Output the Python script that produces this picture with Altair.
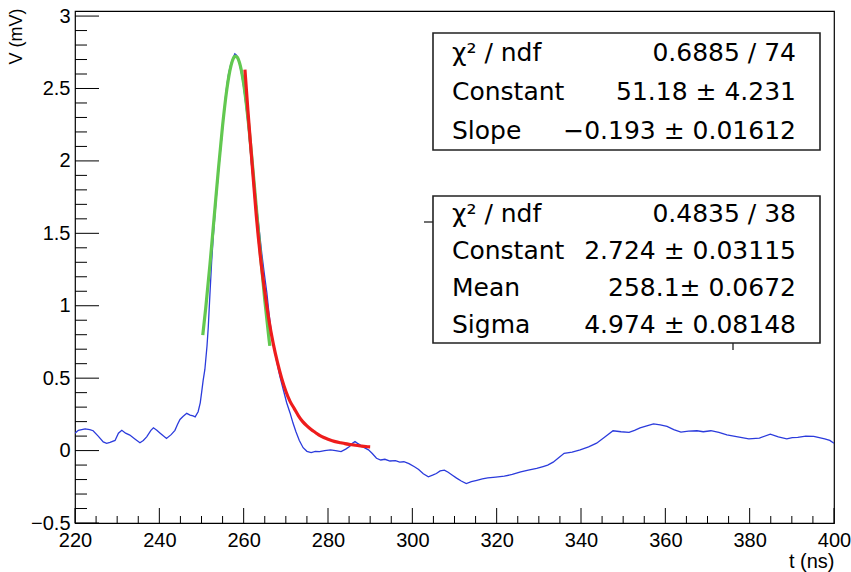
import altair as alt
import pandas as pd

# ---------------- data ----------------
blue_t = [220.0, 220.8, 222.4, 223.5, 224.3, 225.5, 226.7, 227.5, 228.3, 229.5, 230.3, 231.1, 232.0,
          233.0, 234.2, 235.4, 236.2, 237.0, 238.0, 238.6, 239.4, 240.2, 241.0, 241.7, 242.8, 243.7,
          244.3, 244.9, 245.6, 246.5, 247.3, 248.0, 248.5, 249.2, 249.7, 250.0, 250.4, 250.8, 251.3,
          251.6, 252.0, 252.4, 252.8, 253.2, 253.6, 254.0, 254.4, 254.8, 255.2, 255.6, 256.0, 256.4,
          256.8, 257.2, 257.6, 257.9, 258.3, 258.7, 259.1, 259.5, 259.9, 260.3, 260.7, 261.1, 261.5,
          261.9, 262.5, 263.1, 263.7, 264.3, 264.9, 265.5, 266.0, 266.6, 267.2, 267.8, 268.6, 269.4,
          270.2, 271.0, 271.7, 272.4, 273.2, 274.1, 275.0, 276.0, 277.0, 278.0, 279.2, 280.6, 281.8,
          283.1, 284.2, 285.1, 285.8, 286.4, 287.0, 287.6, 288.6, 289.6, 290.5, 291.5, 292.5, 293.5,
          294.7, 296.0, 297.0, 298.0, 299.2, 300.5, 301.5, 302.6, 303.8, 304.8, 305.7, 306.6, 307.6,
          308.5, 309.5, 310.5, 311.6, 312.8, 314.0, 315.3, 316.6, 317.9, 319.8, 321.8, 323.7, 325.7,
          327.5, 329.5, 331.0, 332.1, 333.4, 334.7, 336.0, 337.9, 339.8, 341.8, 343.7, 345.5, 347.6,
          349.5, 351.4, 352.7, 354.0, 355.6, 357.2, 358.8, 360.4, 362.0, 363.7, 365.5, 367.5, 369.0,
          370.8, 372.7, 374.6, 377.2, 379.8, 382.3, 384.9, 386.8, 388.8, 390.1, 391.4, 393.3, 395.2,
          396.5, 397.8, 399.0, 400.0]
blue_v = [0.12, 0.14, 0.15, 0.145, 0.137, 0.10, 0.06, 0.05, 0.057, 0.07, 0.12, 0.14, 0.12,
          0.107, 0.08, 0.054, 0.07, 0.095, 0.14, 0.157, 0.14, 0.12, 0.10, 0.084, 0.11, 0.14,
          0.18, 0.215, 0.235, 0.257, 0.245, 0.24, 0.233, 0.268, 0.33, 0.395, 0.487, 0.56, 0.72,
          0.85, 1.08, 1.30, 1.48, 1.63, 1.78, 1.92, 2.04, 2.16, 2.29, 2.42, 2.52, 2.60,
          2.65, 2.69, 2.72, 2.74, 2.73, 2.71, 2.66, 2.60, 2.53, 2.44, 2.34, 2.23, 2.10,
          1.96, 1.82, 1.68, 1.52, 1.36, 1.22, 1.09, 0.95, 0.81, 0.71, 0.62, 0.51, 0.42,
          0.33, 0.26, 0.19, 0.13, 0.07, 0.02, -0.005, -0.014, -0.005, -0.007, 0.0, 0.005, 0.0,
          -0.007, 0.01, 0.028, 0.05, 0.063, 0.05, 0.040, 0.02, 0.005, -0.02, -0.053, -0.065, -0.06,
          -0.072, -0.07, -0.08, -0.077, -0.09, -0.112, -0.13, -0.16, -0.181, -0.17, -0.158, -0.14, -0.135,
          -0.15, -0.170, -0.19, -0.21, -0.228, -0.215, -0.205, -0.195, -0.188, -0.183, -0.177, -0.165, -0.147,
          -0.135, -0.123, -0.11, -0.100, -0.08, -0.05, -0.019, -0.01, 0.005, 0.025, 0.051, 0.09, 0.137,
          0.13, 0.126, 0.14, 0.156, 0.17, 0.184, 0.178, 0.167, 0.145, 0.128, 0.135, 0.137, 0.13,
          0.137, 0.125, 0.109, 0.095, 0.081, 0.086, 0.114, 0.095, 0.081, 0.09, 0.091, 0.1, 0.098,
          0.09, 0.081, 0.07, 0.05]

green_t = [250.3, 251.0, 252.0, 253.0, 254.0, 255.0, 256.0, 256.5, 257.0, 257.5, 258.0, 258.5,
           259.0, 259.5, 260.0, 261.0, 262.0, 263.0, 264.0, 265.0, 266.0, 266.2]
green_v = [0.797, 0.984, 1.284, 1.610, 1.939, 2.243, 2.492, 2.587, 2.658, 2.704, 2.723, 2.715,
           2.680, 2.618, 2.532, 2.298, 2.003, 1.677, 1.348, 1.041, 0.772, 0.723]

red_t = [260.3, 261, 262, 263, 264, 265, 266, 267, 268, 269, 270, 271, 272, 273, 274, 275,
         276, 277, 278, 279, 280, 281, 282, 283, 284, 285, 286, 287, 288, 289, 290]
red_v = [2.63, 2.35, 1.98, 1.62, 1.33, 1.10, 0.90, 0.74, 0.61, 0.50, 0.41, 0.34, 0.29, 0.24,
         0.20, 0.17, 0.145, 0.125, 0.105, 0.09, 0.078, 0.068, 0.06, 0.054, 0.048, 0.043,
         0.039, 0.035, 0.031, 0.028, 0.026]

x_major = [220, 240, 260, 280, 300, 320, 340, 360, 380, 400]
x_minor = [v for v in range(220, 401, 5) if v % 20 != 0]
y_major = [-0.5, 0, 0.5, 1, 1.5, 2, 2.5, 3]
y_minor = [round(-0.5 + 0.1 * i, 1) for i in range(36) if i % 5 != 0]

box1_labels = ["χ² / ndf", "Constant", "Slope"]
box1_values = ["0.6885 / 74", "51.18 ± 4.231", "−0.193 ± 0.01612"]
box2_labels = ["χ² / ndf", "Constant", "Mean", "Sigma"]
box2_values = ["0.4835 / 38", "2.724 ± 0.03115", "258.1± 0.0672", "4.974 ± 0.08148"]

# ---------------- layout ----------------
W, H = 759, 512
FONT = "Liberation Sans"
BOXFONT = "DejaVu Sans"
xs = alt.Scale(domain=[220, 400], nice=False, zero=False)
ys = alt.Scale(domain=[-0.5, 3.035], nice=False, zero=False)

XAXIS = alt.Axis(
    values=x_major, format="d", title="t (ns)", ticks=False, domain=False, grid=False,
    labelFont=FONT, labelFontSize=20, labelColor="black", labelPadding=7, labelFlush=False,
    labelOverlap=False,
    titleFont=FONT, titleFontSize=20, titleFontWeight="normal", titleColor="black",
    titleAlign="right", titleX=W, titleY=38, titleBaseline="middle")
YAXIS = alt.Axis(
    values=y_major, format="~g", title="V (mV)", ticks=False, domain=False, grid=False,
    labelFont=FONT, labelFontSize=20, labelColor="black", labelPadding=5, labelFlush=False,
    labelOverlap=False,
    titleFont=FONT, titleFontSize=18, titleFontWeight="normal", titleColor="black",
    titleAngle=-90, titleAlign="right", titleBaseline="middle", titleX=-59, titleY=-3)


def X(field):
    return alt.X(field, scale=xs, axis=XAXIS, title="t (ns)")


def Y(field):
    return alt.Y(field, scale=ys, axis=YAXIS, title="V (mV)")


df_blue = pd.DataFrame({"t": blue_t, "v": blue_v})
df_green = pd.DataFrame({"t": green_t, "v": green_v})
df_red = pd.DataFrame({"t": red_t, "v": red_v})

blue = alt.Chart(df_blue).mark_line(color="#2b3bdc", strokeWidth=1.3, clip=True).encode(
    x=X("t:Q"), y=Y("v:Q"))
green = alt.Chart(df_green).mark_line(color="#62c850", strokeWidth=3.2, interpolate="monotone").encode(
    x=X("t:Q"), y=Y("v:Q"))
red = alt.Chart(df_red).mark_line(color="#ee1c1c", strokeWidth=3.2, interpolate="monotone").encode(
    x=X("t:Q"), y=Y("v:Q"))

# inward ROOT-style ticks
ytM = alt.Chart(pd.DataFrame({"v": y_major})).mark_rule(color="black", strokeWidth=1).encode(
    y=Y("v:Q"), x=alt.value(0), x2=alt.value(24))
ytm = alt.Chart(pd.DataFrame({"v": y_minor})).mark_rule(color="black", strokeWidth=1).encode(
    y=Y("v:Q"), x=alt.value(0), x2=alt.value(12))
xtM = alt.Chart(pd.DataFrame({"t": x_major})).mark_rule(color="black", strokeWidth=1).encode(
    x=X("t:Q"), y=alt.value(H), y2=alt.value(H - 15))
xtm = alt.Chart(pd.DataFrame({"t": x_minor})).mark_rule(color="black", strokeWidth=1).encode(
    x=X("t:Q"), y=alt.value(H), y2=alt.value(H - 7))

# stat boxes (pixel layout inside the plot area)
boxes = pd.DataFrame({"x0": [358, 358], "x1": [745, 745], "y0": [22, 185], "y1": [139, 332]})
box_marks = alt.Chart(boxes).mark_rect(fill="white", stroke="#222222", strokeWidth=1.6).encode(
    x=alt.X("x0:Q", scale=None), x2="x1:Q", y=alt.Y("y0:Q", scale=None), y2="y1:Q")

rows = []
for i, (lab, val) in enumerate(zip(box1_labels, box1_values)):
    rows.append({"lab": lab, "val": val, "yp": 22 + (i + 0.5) * 39})
for i, (lab, val) in enumerate(zip(box2_labels, box2_values)):
    rows.append({"lab": lab, "val": val, "yp": 185 + (i + 0.5) * 36.75})
df_txt = pd.DataFrame(rows)

lab_txt = alt.Chart(df_txt).mark_text(align="left", baseline="middle", font=BOXFONT,
                                      fontSize=25, color="black").encode(
    x=alt.value(377), y=alt.Y("yp:Q", scale=None), text="lab:N")
val_txt = alt.Chart(df_txt).mark_text(align="right", baseline="middle", font=BOXFONT,
                                      fontSize=25, color="black").encode(
    x=alt.value(721), y=alt.Y("yp:Q", scale=None), text="val:N")

# small leftover pave edges next to the second box
bits = pd.DataFrame({"a": [349, 658], "b": [358, 658], "c": [211, 332], "d": [211, 339]})
bit_marks = alt.Chart(bits).mark_rule(color="#222222", strokeWidth=1.3).encode(
    x=alt.X("a:Q", scale=None), x2="b:Q", y=alt.Y("c:Q", scale=None), y2="d:Q")

chart = alt.layer(
    blue, ytm, ytM, xtm, xtM, green, red, bit_marks, box_marks, lab_txt, val_txt
).properties(
    width=W, height=H,
    padding={"left": 75, "top": 11, "right": 17, "bottom": 49},
    autosize=alt.AutoSizeParams(type="none"),
    background="white",
).configure_view(stroke="black", strokeWidth=1.2)

chart.save("out.html", embed_options={"renderer": "svg", "actions": False})
